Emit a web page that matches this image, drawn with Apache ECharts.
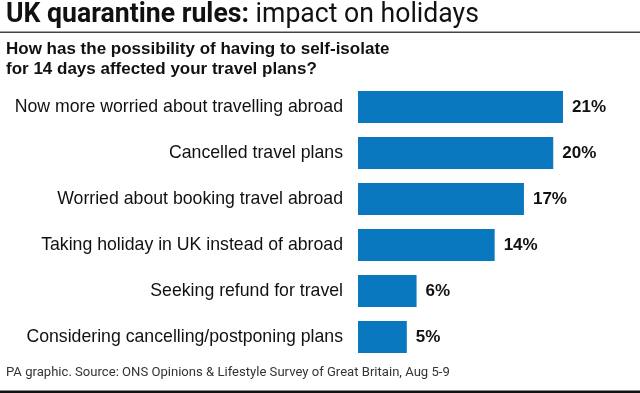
<!DOCTYPE html>
<html>
<head>
<meta charset="utf-8">
<script src="https://cdn.jsdelivr.net/npm/echarts@6/dist/echarts.min.js"></script>
<style>html,body{margin:0;padding:0;background:#fff;}#c{width:640px;height:393px;}</style>
</head>
<body>
<div id="c"></div>
<script>
const categories = [
  "Now more worried about travelling abroad",
  "Cancelled travel plans",
  "Worried about booking travel abroad",
  "Taking holiday in UK instead of abroad",
  "Seeking refund for travel",
  "Considering cancelling/postponing plans"
];
const values = [21, 20, 17, 14, 6, 5];
const titleBold = "UK quarantine rules:";
const titleRegular = " impact on holidays";
const subtitleLines = ["How has the possibility of having to self-isolate", "for 14 days affected your travel plans?"];
const footer = "PA graphic. Source: ONS Opinions & Lifestyle Survey of Great Britain, Aug 5-9";

const FONT = "Liberation Sans";
const TFONT = "Roboto";
const chart = echarts.init(document.getElementById('c'), null, {renderer: 'canvas'});
chart.setOption({
  animation: false,
  backgroundColor: '#fff',
  grid: {left: 358, top: 84, width: 205, height: 276, containLabel: false},
  xAxis: {type: 'value', min: 0, max: 21, show: false},
  yAxis: {
    type: 'category', data: categories, inverse: true,
    axisLine: {show: false}, axisTick: {show: false},
    axisLabel: {margin: 15, fontFamily: FONT, fontSize: 17.7, color: '#111'}
  },
  series: [{
    type: 'bar', data: values, barWidth: 32,
    itemStyle: {color: '#0a78be'},
    label: {show: true, position: 'right', distance: 9, formatter: '{c}%',
      fontFamily: FONT, fontSize: 17, fontWeight: 'bold', color: '#111'}
  }],
  graphic: [
    {type: 'text', x: 6, y: 1, scaleX: 0.968, originX: 0, originY: 0, style: {
      text: '{b|' + titleBold + '}{r|' + titleRegular + '}',
      verticalAlign: 'top',
      rich: {
        b: {fontFamily: TFONT, fontSize: 27.5, fontWeight: 'bold', fill: '#111', lineHeight: 28},
        r: {fontFamily: TFONT, fontSize: 27.5, fontWeight: 'normal', fill: '#111', lineHeight: 28}
      }
    }},
    {type: 'rect', shape: {x: 0, y: 31.5, width: 640, height: 1.4}, style: {fill: '#444'}},
    {type: 'text', x: 6, y: 39, style: {
      text: subtitleLines.join('\n'), lineHeight: 20, verticalAlign: 'top',
      fontFamily: FONT, fontSize: 17, fontWeight: 'bold', fill: '#111'
    }},
    {type: 'text', x: 6, y: 366, scaleX: 1.047, originX: 0, originY: 0, style: {
      text: footer, fontFamily: TFONT, fontSize: 12.5, fill: '#333', verticalAlign: 'top'
    }},
    {type: 'rect', shape: {x: 0, y: 390.5, width: 640, height: 2.5}, style: {fill: '#111'}}
  ]
});
</script>
</body>
</html>
